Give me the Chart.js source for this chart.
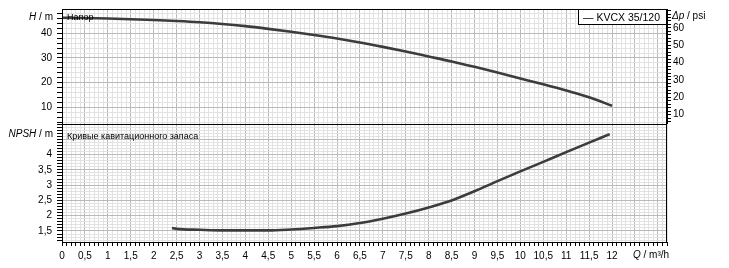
<!DOCTYPE html>
<html><head><meta charset="utf-8">
<script src="https://cdn.jsdelivr.net/npm/chart.js@4.4.0/dist/chart.umd.min.js"></script>
<style>
html,body{margin:0;padding:0;background:#fff;width:729px;height:268px;overflow:hidden}
canvas{position:absolute;left:0}
#c1{top:0}
#c2{top:120px}
</style></head><body>
<canvas id="c1" width="729" height="130"></canvas>
<canvas id="c2" width="729" height="148"></canvas>
<script>
// ---- data ----
const qHead = [0,0.5,1,1.5,2,2.5,3,3.5,4,4.5,5,5.5,6,6.5,7,7.5,8,8.5,9,9.5,10,10.5,11,11.5,12];
const headM = [46.3,46.2,46.0,45.7,45.4,45.0,44.5,43.8,42.9,41.8,40.6,39.3,37.9,36.3,34.5,32.6,30.6,28.6,26.4,24.1,21.7,19.3,16.8,14.1,10.6];
const qNpsh = [2.4,2.5,3,3.5,4,4.5,5,5.5,6,6.5,7,7.5,8,8.5,9,9.5,10,10.5,11,11.5,11.95];
const npshM = [1.6,1.57,1.54,1.52,1.52,1.52,1.55,1.6,1.66,1.76,1.9,2.07,2.27,2.5,2.8,3.13,3.45,3.76,4.08,4.39,4.67];

const xTickValues = [0,0.5,1,1.5,2,2.5,3,3.5,4,4.5,5,5.5,6,6.5,7,7.5,8,8.5,9,9.5,10,10.5,11,11.5,12];
const xTickLabels = ['0','0,5','1','1,5','2','2,5','3','3,5','4','4,5','5','5,5','6','6,5','7','7,5','8','8,5','9','9,5','10','10,5','11','11,5','12'];
const hTickValues = [10,20,30,40];
const hTickLabels = ['10','20','30','40'];
const psiTickValues = [10,20,30,40,50,60];
const psiTickLabels = ['10','20','30','40','50','60'];
const npshTickValues = [1.5,2,2.5,3,3.5,4];
const npshTickLabels = ['1,5','2','2,5','3','3,5','4'];

const seriesName = 'KVCX 35/120';
const headTitle = 'Напор';
const npshTitle = 'Кривые кавитационного запаса';

// axis ranges
const xMin = 0, xMax = 13.2, xMinorStep = 0.1, xMajorStep = 0.5;
const hMin = 3.23, hMax = 49.85, hMinorStep = 2, hMajorStep = 10;
const mToPsi = 1.4223;
const psiMinorStep = 2;
const nMin = 1.14, nMax = 5.0, nMinorStep = 0.1, nMajorStep = 0.5;

// ---- style ----
const FONT = '"Liberation Sans", Arial, sans-serif';
const TICK = 10;
const MAJ = '#bababa', MIN = '#e2e2e2', LINE = '#3c3c3c';

function stepTicks(min, max, step) {
  const out = [];
  const start = Math.ceil(min / step - 1e-9);
  const end = Math.floor(max / step + 1e-9);
  for (let i = start; i <= end; i++) out.push({value: Math.round(i * step * 1000) / 1000});
  return out;
}
function isMult(v, s) { const r = v / s; return Math.abs(r - Math.round(r)) < 1e-6; }
function labelFor(vals, labels) {
  return v => { for (let i = 0; i < vals.length; i++) if (Math.abs(vals[i] - v) < 1e-6) return labels[i]; return ''; };
}
function drawParts(ctx, parts, x, y, align, size) {
  ctx.save();
  ctx.fillStyle = '#000'; ctx.textBaseline = 'alphabetic'; ctx.textAlign = 'left';
  const w = parts.map(p => { ctx.font = (p.i ? 'italic ' : '') + size + 'px ' + FONT; return ctx.measureText(p.t).width; });
  const total = w.reduce((a, b) => a + b, 0);
  let cx = align === 'right' ? x - total : x;
  parts.forEach((p, k) => { ctx.font = (p.i ? 'italic ' : '') + size + 'px ' + FONT; ctx.fillText(p.t, cx, y); cx += w[k]; });
  ctx.restore();
}
function frame(chart) {
  const a = chart.chartArea, ctx = chart.ctx;
  ctx.save(); ctx.strokeStyle = '#000'; ctx.lineWidth = 1;
  ctx.strokeRect(Math.round(a.left) + 0.5, Math.round(a.top) + 0.5, Math.round(a.right - a.left) - 1, Math.round(a.bottom - a.top));
  ctx.restore();
}

const xGrid = (labels) => ({
  type: 'linear', min: xMin, max: xMax,
  afterBuildTicks: s => { s.ticks = stepTicks(xMin, xMax, xMinorStep); },
  afterFit: s => { s.height = labels ? 26 : 6; s.paddingLeft = 0; s.paddingRight = 0; },
  grid: { color: c => isMult(c.tick.value, xMajorStep) ? MAJ : MIN, tickColor: '#000', tickLength: 4, drawTicks: labels },
  border: { display: true, color: '#000' },
  ticks: { display: labels, autoSkip: false, maxRotation: 0, minRotation: 0, padding: 4,
           color: '#000', font: { family: FONT, size: TICK }, callback: labelFor(xTickValues, xTickLabels) }
});

// ---- top chart: head ----
new Chart(document.getElementById('c1'), {
  type: 'scatter',
  data: { datasets: [{ label: seriesName, data: qHead.map((q, i) => ({x: q, y: headM[i]})),
    showLine: true, borderColor: LINE, borderWidth: 2.6, pointRadius: 0, cubicInterpolationMode: 'monotone', yAxisID: 'y' }] },
  options: {
    responsive: false, animation: false, devicePixelRatio: 1,
    layout: { padding: { top: 9, bottom: 0, left: 0, right: 0 } },
    plugins: { legend: { display: false }, tooltip: { enabled: false } },
    scales: {
      x: xGrid(false),
      y: { type: 'linear', position: 'left', min: hMin, max: hMax,
        afterBuildTicks: s => { s.ticks = stepTicks(hMin, hMax, hMinorStep); },
        afterFit: s => { s.width = 62; s.paddingTop = 0; s.paddingBottom = 0; },
        grid: { color: c => isMult(c.tick.value, hMajorStep) ? MAJ : MIN, tickColor: '#000', tickLength: 5 },
        border: { display: true, color: '#000' },
        ticks: { autoSkip: false, padding: 5, color: '#000', font: { family: FONT, size: TICK }, callback: labelFor(hTickValues, hTickLabels) } },
      psi: { type: 'linear', position: 'right', min: hMin * mToPsi, max: hMax * mToPsi,
        afterBuildTicks: s => { s.ticks = stepTicks(hMin * mToPsi, hMax * mToPsi, psiMinorStep); },
        afterFit: s => { s.width = 62; s.paddingTop = 0; s.paddingBottom = 0; },
        grid: { drawOnChartArea: false, color: '#000', tickColor: '#000', tickLength: 4 },
        border: { display: true, color: '#000' },
        ticks: { autoSkip: false, padding: 2, color: '#000', font: { family: FONT, size: TICK }, callback: labelFor(psiTickValues, psiTickLabels) } }
    }
  },
  plugins: [{ id: 'deco1', afterDraw(chart) {
    const ctx = chart.ctx, a = chart.chartArea;
    frame(chart);
    drawParts(ctx, [{t: headTitle}], a.left + 5, 20, 'left', 9);
    drawParts(ctx, [{t: 'H', i: true}, {t: ' / m'}], 53, 20, 'right', 10);
    drawParts(ctx, [{t: 'Δp', i: true}, {t: ' / psi'}], 672, 19, 'left', 10);
    // legend box
    ctx.save();
    ctx.fillStyle = '#fff'; ctx.fillRect(579, 10, 87, 14);
    ctx.strokeStyle = '#000'; ctx.lineWidth = 1; ctx.strokeRect(578.5, 9.5, 88, 15);
    ctx.restore();
    drawParts(ctx, [{t: '— ' + seriesName}], 583, 21, 'left', 10.5);
  } }]
});

// ---- bottom chart: NPSH ----
new Chart(document.getElementById('c2'), {
  type: 'scatter',
  data: { datasets: [{ label: 'NPSH', data: qNpsh.map((q, i) => ({x: q, y: npshM[i]})),
    showLine: true, borderColor: LINE, borderWidth: 2.6, pointRadius: 0, cubicInterpolationMode: 'monotone' }] },
  options: {
    responsive: false, animation: false, devicePixelRatio: 1,
    layout: { padding: { top: 4, bottom: 0, left: 0, right: 62 } },
    plugins: { legend: { display: false }, tooltip: { enabled: false } },
    scales: {
      x: xGrid(true),
      y: { type: 'linear', position: 'left', min: nMin, max: nMax,
        afterBuildTicks: s => { s.ticks = stepTicks(nMin, nMax, nMinorStep); },
        afterFit: s => { s.width = 62; s.paddingTop = 0; s.paddingBottom = 0; },
        grid: { color: c => isMult(c.tick.value, nMajorStep) ? MAJ : MIN, tickColor: '#000', tickLength: 5 },
        border: { display: true, color: '#000' },
        ticks: { autoSkip: false, padding: 5, color: '#000', font: { family: FONT, size: TICK }, callback: labelFor(npshTickValues, npshTickLabels) } }
    }
  },
  plugins: [{ id: 'deco2', afterDraw(chart) {
    const ctx = chart.ctx, a = chart.chartArea;
    frame(chart);
    drawParts(ctx, [{t: npshTitle}], a.left + 5, 18.5, 'left', 9);
    drawParts(ctx, [{t: 'NPSH', i: true}, {t: ' / m'}], 53, 16.5, 'right', 10);
    drawParts(ctx, [{t: 'Q', i: true}, {t: ' / m³/h'}], 633, 138, 'left', 10);
  } }]
});
</script>
</body></html>
